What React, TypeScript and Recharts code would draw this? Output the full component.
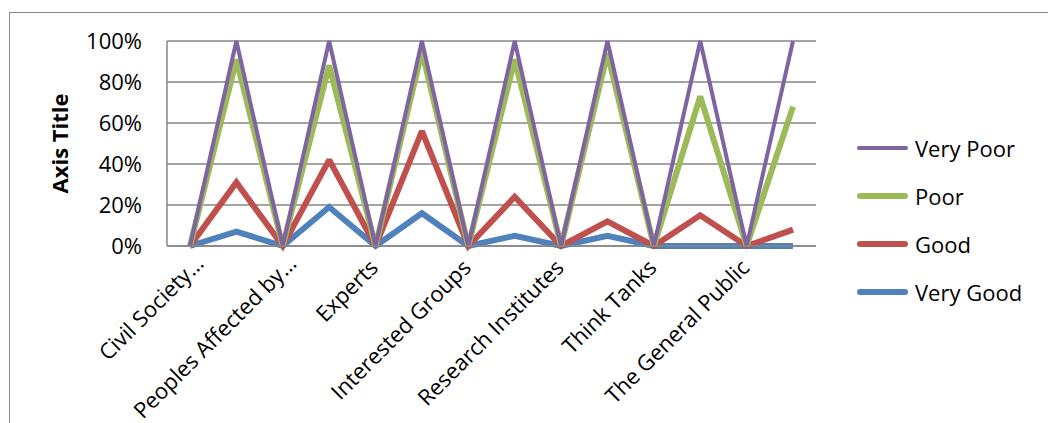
import React from "react";
import { AreaChart, Area, XAxis, YAxis, CartesianGrid, Legend } from "recharts";

const categories = [
  "Civil Society…", "", "Peoples Affected by…", "", "Experts", "", "Interested Groups", "",
  "Research Institutes", "", "Think Tanks", "", "The General Public", "",
];
const veryGood = [0, 7, 0, 19, 0, 16, 0, 5, 0, 5, 0, 0, 0, 0];
const good = [0, 24, 0, 23, 0, 40, 0, 19, 0, 7, 0, 15, 0, 8];
const poor = [0, 60, 0, 46, 0, 39, 0, 67, 0, 82, 0, 58, 0, 60];
const veryPoor = [0, 9, 0, 12, 0, 5, 0, 9, 0, 6, 0, 27, 0, 32];
const yTicks = [0, 20, 40, 60, 80, 100];

const seriesInfo = [
  { key: "veryGood", name: "Very Good", color: "#4F81BD", width: 6 },
  { key: "good", name: "Good", color: "#C0504D", width: 6 },
  { key: "poor", name: "Poor", color: "#9BBB59", width: 6 },
  { key: "veryPoor", name: "Very Poor", color: "#8064A2", width: 4 },
];

const data = categories.map((name, i) => ({
  name,
  veryGood: veryGood[i],
  good: good[i],
  poor: poor[i],
  veryPoor: veryPoor[i],
}));

const FONT = "'Open Sans', sans-serif";

const XTick = (props: any) => {
  const { x, y, payload } = props;
  const label = String(payload.value ?? "");
  const truncated = label.endsWith("…");
  const dx = truncated ? 15 : 4;
  const dy = truncated ? 19 : 23;
  return (
    <text
      transform={`translate(${x + dx},${y + dy}) rotate(-45)`}
      textAnchor="end"
      fontFamily={FONT}
      fontSize={22}
      fill="#000"
    >
      {label}
    </text>
  );
};

const renderLegend = () => {
  const items = [...seriesInfo].reverse();
  return (
    <div style={{ fontFamily: FONT, fontSize: 22, color: "#000" }}>
      {items.map((s) => (
        <div key={s.key} style={{ display: "flex", alignItems: "center", height: 48 }}>
          <div
            style={{
              width: 51,
              height: s.width,
              background: s.color,
              borderRadius: s.width / 2,
              marginRight: 7,
            }}
          />
          <span>{s.name}</span>
        </div>
      ))}
    </div>
  );
};

const AxisTitle = (props: any) => {
  const { viewBox } = props;
  const cx = viewBox.x - 48;
  const cy = viewBox.y + viewBox.height / 2;
  return (
    <text
      transform={`translate(${cx},${cy}) rotate(-90)`}
      textAnchor="middle"
      dominantBaseline="central"
      fontFamily={FONT}
      fontSize={22}
      fontWeight="bold"
      fill="#000"
    >
      Axis Title
    </text>
  );
};

export default function App() {
  return (
    <div
      style={{
        position: "fixed",
        left: 0,
        top: 0,
        width: 1048,
        height: 423,
        overflow: "hidden",
        background: "#fff",
      }}
    >
      <div
        style={{
          position: "absolute",
          left: 9,
          top: 12,
          width: 1100,
          height: 500,
          border: "1px solid #8a8a8a",
        }}
      />
      <div style={{ position: "absolute", left: 0, top: 0 }}>
        <AreaChart
          width={1048}
          height={423}
          data={data}
          margin={{ top: 41, right: 232, bottom: 147, left: 107 }}
        >
          <CartesianGrid vertical={false} stroke="#868686" strokeWidth={1.5} />
          <XAxis
            dataKey="name"
            interval={0}
            padding={{ left: 23, right: 23 }}
            tickLine={false}
            tickSize={0}
            tickMargin={0}
            axisLine={{ stroke: "#868686", strokeWidth: 1.5 }}
            tick={<XTick />}
            height={30}
          />
          <YAxis
            domain={[0, 100]}
            ticks={yTicks}
            tickFormatter={(v: number) => `${v}%`}
            tickLine={false}
            tickSize={0}
            tickMargin={25}
            axisLine={{ stroke: "#868686", strokeWidth: 1.5 }}
            tick={{ fill: "#000", fontSize: 22, fontFamily: FONT }}
            width={60}
            label={<AxisTitle />}
          />
          <Legend
            layout="vertical"
            align="center"
            verticalAlign="middle"
            content={renderLegend}
            wrapperStyle={{ position: "absolute", left: 857, top: 124, width: 190 }}
          />
          {seriesInfo.map((s) => (
            <Area
              key={s.key}
              type="linear"
              dataKey={s.key}
              name={s.name}
              stackId="1"
              stroke={s.color}
              strokeWidth={s.width}
              strokeMiterlimit={2}
              fill="none"
              fillOpacity={0}
              dot={false}
              activeDot={false}
              isAnimationActive={false}
            />
          ))}
        </AreaChart>
      </div>
    </div>
  );
}
